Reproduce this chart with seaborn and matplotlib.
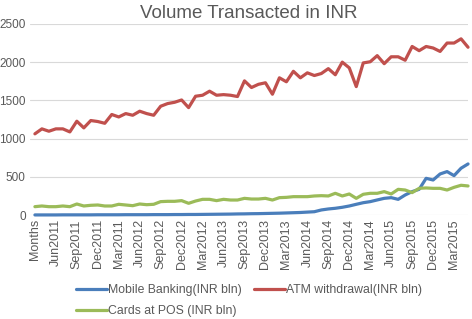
import pandas as pd
import seaborn as sns
import matplotlib.pyplot as plt

tick_labels = ['Months', 'Jun2011', 'Sep2011', 'Dec2011', 'Mar2011', 'Jun2012', 'Sep2012',
               'Dec2012', 'Mar2012', 'Jun2013', 'Sep2013', 'Dec2013', 'Mar2013', 'Jun2014',
               'Sep2014', 'Dec2014', 'Mar2014', 'Jun2015', 'Sep2015', 'Dec2015', 'Mar2015']

mobile = [1, 1, 1, 1, 2, 2, 2, 2, 2, 3,
          3, 3, 3, 4, 4, 4, 4, 5, 5, 5,
          6, 6, 7, 7, 8, 9, 10, 11, 12, 14,
          15, 17, 18, 20, 22, 24, 27, 30, 33, 38,
          43, 66, 79, 88, 101, 118, 140, 161, 175, 197,
          218, 227, 205, 262, 306, 336, 480, 458, 537, 568,
          515, 612, 668]

atm = [1062, 1127, 1096, 1127, 1127, 1087, 1227, 1140, 1236, 1223,
       1200, 1315, 1283, 1327, 1305, 1358, 1327, 1305, 1423, 1458,
       1475, 1505, 1405, 1554, 1567, 1620, 1567, 1575, 1567, 1550,
       1755, 1668, 1710, 1730, 1580, 1795, 1743, 1880, 1795, 1860,
       1825, 1851, 1915, 1835, 2000, 1925, 1680, 1990, 2005, 2085,
       1980, 2070, 2070, 2025, 2205, 2150, 2205, 2185, 2140, 2250,
       2250, 2305, 2195]

pos = [109, 118, 109, 109, 118, 109, 144, 118, 127, 131,
       118, 118, 140, 131, 122, 144, 135, 140, 175, 179,
       179, 188, 153, 183, 205, 205, 188, 205, 196, 196,
       218, 209, 209, 218, 196, 227, 231, 240, 240, 240,
       249, 253, 249, 284, 249, 275, 218, 271, 284, 284,
       306, 275, 336, 327, 293, 349, 354, 349, 349, 327,
       362, 389, 380]

names = ['Mobile Banking(INR bln)', 'ATM withdrawal(INR bln)', 'Cards at POS (INR bln)']
colors = ['#4a7ebb', '#c0504d', '#9bbb59']

rows = []
for name, vals in zip(names, [mobile, atm, pos]):
    for i, v in enumerate(vals):
        rows.append({'idx': i, 'value': v, 'series': name})
df = pd.DataFrame(rows)

sns.set_style('white')
plt.rcParams['font.family'] = ['Liberation Sans', 'DejaVu Sans']
grey = '#595959'

fig = plt.figure(figsize=(4.72, 3.19), dpi=100)
ax = fig.add_axes([0.0636, 0.326, 0.928, 0.599])

sns.lineplot(data=df, x='idx', y='value', hue='series', hue_order=names,
             palette=colors, linewidth=2.3, ax=ax, clip_on=False)

ax.set_xlim(-0.7, 62)
ax.set_ylim(0, 2500)
ax.set_yticks([0, 500, 1000, 1500, 2000, 2500])
ax.set_xticks(range(0, 61, 3))
ax.set_xticklabels(tick_labels, rotation=90)
ax.tick_params(axis='y', labelsize=8.5, colors=grey, length=0, pad=3)
ax.tick_params(axis='x', labelsize=9, colors=grey, length=0, pad=3)
ax.yaxis.grid(True, color='#d9d9d9', linewidth=0.8)
ax.set_axisbelow(True)
for s in ax.spines.values():
    s.set_visible(False)
ax.set_xlabel('')
ax.set_ylabel('')
ax.set_title('Volume Transacted in INR', fontsize=13.5, color=grey, pad=4)

# legend fills column-first, so reorder to get Mobile, ATM on row 1 and Cards on row 2
handles, labels = ax.get_legend_handles_labels()
order = [0, 2, 1]
ax.legend([handles[i] for i in order], [labels[i] for i in order],
          loc='upper center', bbox_to_anchor=(0.5, -0.305), ncol=2, frameon=False,
          fontsize=8.8, handlelength=2.5, handletextpad=0.1, columnspacing=1.0,
          labelspacing=0.75, labelcolor=grey)

fig.savefig('out.png', dpi=100)
